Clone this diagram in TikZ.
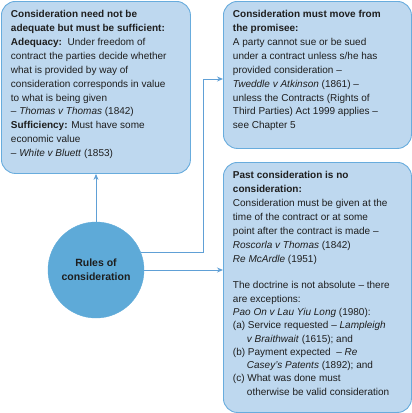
\documentclass[tikz,border=0pt]{standalone}
\usepackage{fontspec}
\setmainfont{Liberation Sans}
\usetikzlibrary{arrows.meta}
\definecolor{boxfill}{RGB}{190,216,239}
\definecolor{boxline}{RGB}{104,172,221}
\definecolor{circfill}{RGB}{94,170,216}
\definecolor{linkcol}{RGB}{96,160,214}
\definecolor{txt}{RGB}{30,30,30}
\newcommand{\boxtext}[3]{\begin{minipage}[t][#2][t]{#1}\fontsize{10}{13.9}\selectfont\raggedright\color{txt}#3\end{minipage}}
\newcommand{\indl}{\hspace*{14pt}}
\tikzset{
  infobox/.style={draw=boxline, line width=0.9pt, fill=boxfill, rounded corners=14pt, anchor=north west, inner xsep=9.5pt, inner ysep=9pt},
  hub/.style={circle, fill=circfill, draw=circfill, minimum size=96pt, inner sep=0pt, align=center, font=\fontsize{10.5}{14}\selectfont\bfseries, text=txt},
  link/.style={draw=linkcol, line width=0.9pt, -{Stealth[length=6pt,width=5pt]}}
}
\begin{document}
\begin{tikzpicture}[x=1pt,y=-1pt]
\useasboundingbox (0,0) rectangle (412,413);
\node[infobox] (b1) at (1,1) {\boxtext{170pt}{154pt}{%
\textbf{Consideration need not be}\\
\textbf{adequate but must be sufficient:}\\
\textbf{Adequacy:}\ \ Under freedom of\\
contract the parties decide whether\\
what is provided by way of\\
consideration corresponds in value\\
to what is being given\\
– \textit{Thomas v Thomas} (1842)\\
\textbf{Sufficiency:} Must have some\\
economic value\\
– \textit{White v Bluett} (1853)}};
\node[infobox] (b2) at (223,1) {\boxtext{169pt}{129pt}{%
\textbf{Consideration must move from}\\
\textbf{the promisee:}\\
A party cannot sue or be sued\\
under a contract unless s/he has\\
provided consideration –\\
\textit{Tweddle v Atkinson} (1861) –\\
unless the Contracts (Rights of\\
Third Parties) Act 1999 applies –\\
see Chapter 5}};
\node[infobox] (b3) at (223,162) {\boxtext{169pt}{232pt}{%
\textbf{Past consideration is no}\\
\textbf{consideration:}\\
Consideration must be given at the\\
time of the contract or at some\\
point after the contract is made –\\
\textit{Roscorla v Thomas} (1842)\\
\textit{Re McArdle} (1951)\\[13.5pt]
\fontsize{10}{13.3}\selectfont
The doctrine is not absolute – there\\
are exceptions:\\
\textit{Pao On v Lau Yiu Long} (1980):\\
(a) Service requested – \textit{Lampleigh}\\
\indl\textit{v Braithwait} (1615); and\\
(b) Payment expected \ – \textit{Re}\\
\indl\textit{Casey's Patents} (1892); and\\
(c) What was done must\\
\indl otherwise be valid consideration\par}};
\node[hub] (c) at (96,270) {Rules of\\consideration};
\coordinate (k) at (203,79);
\draw[link] (c.north) -- (c.north |- b1.south);
\draw[link] (c.21) -| (k) -- (k -| b2.west);
\draw[link] (c.east) -- (c.east -| b3.west);
\end{tikzpicture}
\end{document}
